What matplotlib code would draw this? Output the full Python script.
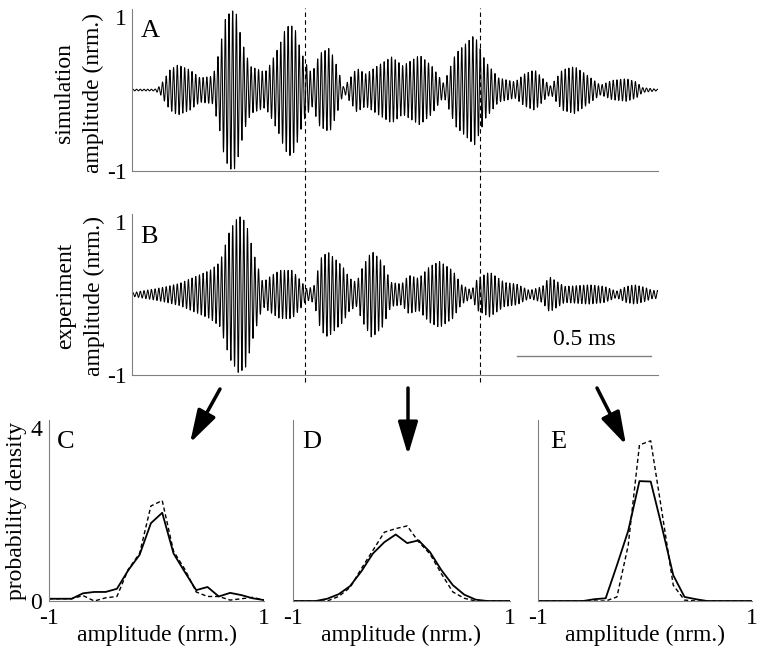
import numpy as np
import matplotlib
matplotlib.use('Agg')
import matplotlib.pyplot as plt
import matplotlib.transforms as mtransforms

plt.rcParams['font.family'] = ['Liberation Serif', 'DejaVu Serif']
plt.rcParams['font.size'] = 17

# envelope of the waveforms (time in ms, amplitude)
sim_env_t = [0.0, 0.085, 0.104, 0.141, 0.17, 0.215, 0.252, 0.3, 0.326, 0.344,
             0.367, 0.385, 0.4, 0.419, 0.441, 0.493, 0.511, 0.548, 0.567, 0.585,
             0.604, 0.622, 0.641, 0.667, 0.696, 0.733, 0.759, 0.785, 0.833, 0.867,
             0.911, 0.963, 1.004, 1.067, 1.111, 1.156, 1.2, 1.27, 1.311, 1.359,
             1.42, 1.456, 1.493, 1.53, 1.552, 1.596, 1.641, 1.681, 1.737, 1.781,
             1.833, 1.87, 1.893, 1.948]
sim_env_a = [0.01, 0.01, 0.05, 0.25, 0.31, 0.25, 0.15, 0.17, 0.51, 0.86,
             0.98, 0.97, 0.72, 0.47, 0.29, 0.22, 0.31, 0.56, 0.74, 0.81,
             0.76, 0.53, 0.35, 0.2, 0.45, 0.52, 0.3, 0.03, 0.27, 0.2,
             0.3, 0.41, 0.3, 0.43, 0.3, 0.08, 0.45, 0.68, 0.35, 0.15,
             0.1, 0.2, 0.25, 0.12, 0.05, 0.25, 0.29, 0.2, 0.06, 0.12,
             0.14, 0.1, 0.03, 0.01]

exp_env_t = [0.0, 0.03, 0.085, 0.13, 0.178, 0.233, 0.289, 0.326, 0.363, 0.396,
             0.422, 0.452, 0.485, 0.511, 0.548, 0.593, 0.619, 0.648, 0.674, 0.7,
             0.726, 0.781, 0.807, 0.833, 0.856, 0.889, 0.93, 0.96, 1.0, 1.026,
             1.063, 1.104, 1.141, 1.189, 1.222, 1.259, 1.281, 1.326, 1.381, 1.426,
             1.474, 1.522, 1.548, 1.604, 1.696, 1.752, 1.796, 1.833, 1.863, 1.9,
             1.93]
exp_env_a = [0.02, 0.04, 0.07, 0.1, 0.14, 0.22, 0.3, 0.4, 0.8, 0.98,
             0.9, 0.5, 0.15, 0.22, 0.3, 0.3, 0.2, 0.07, 0.1, 0.45,
             0.53, 0.35, 0.2, 0.15, 0.35, 0.54, 0.4, 0.15, 0.13, 0.24,
             0.2, 0.35, 0.41, 0.3, 0.12, 0.05, 0.2, 0.28, 0.15, 0.13,
             0.05, 0.1, 0.22, 0.1, 0.12, 0.1, 0.04, 0.1, 0.12, 0.09,
             0.05]

carrier_khz = 73.0
t_end = 1.95

# marked time points (ms) and the scale bar
mark_times = [0.64, 1.289]
bar_start = 1.426
bar_len = 0.5

# amplitude histograms, 20 bins from -1 to 1
bins = np.linspace(-1, 1, 20)
c_solid = [0.05, 0.05, 0.05, 0.17, 0.2, 0.2, 0.27, 0.68, 1.02, 1.72,
           1.95, 1.05, 0.64, 0.24, 0.31, 0.1, 0.18, 0.13, 0.06, 0.02]
c_dash = [0.05, 0.05, 0.05, 0.12, 0.0, 0.07, 0.1, 0.7, 1.05, 2.1,
          2.22, 1.1, 0.7, 0.2, 0.1, 0.1, 0.02, 0.05, 0.08, 0.02]
d_solid = [0, 0, 0, 0.05, 0.15, 0.33, 0.66, 1.05, 1.3, 1.47,
           1.28, 1.34, 1.08, 0.68, 0.35, 0.14, 0.03, 0, 0, 0]
d_dash = [0, 0, 0, 0, 0.1, 0.3, 0.72, 1.12, 1.52, 1.6,
          1.66, 1.31, 1.04, 0.6, 0.2, 0.06, 0, 0, 0, 0]
e_solid = [0, 0, 0, 0, 0, 0.04, 0.06, 0.79, 1.55, 2.65,
           2.64, 1.63, 0.57, 0.09, 0.04, 0, 0, 0, 0, 0]
e_dash = [0, 0, 0, 0, 0, 0, 0, 0.09, 1.23, 3.45,
          3.54, 1.96, 0.35, 0.02, 0, 0, 0, 0, 0, 0]

grey = '#808080'

fig = plt.figure(figsize=(7.6, 6.51), dpi=100)

axA = fig.add_axes([0.1737, 0.7373, 0.692, 0.2488])
axB = fig.add_axes([0.1737, 0.424, 0.692, 0.2473])

t = np.linspace(0, t_end, 8000)
for ax, et, ea in [(axA, sim_env_t, sim_env_a), (axB, exp_env_t, exp_env_a)]:
    env = np.interp(t, et, ea)
    ax.plot(t, env * np.sin(2 * np.pi * carrier_khz * t), color='k', lw=0.75)
    ax.set_xlim(0, t_end)
    ax.set_ylim(-1, 1)
    ax.set_xticks([])
    ax.set_yticks([-1, 1])
    ax.set_yticklabels(['-1', '1'])
    ax.get_yticklabels()[1].set_va('top')
    ax.tick_params(length=0, pad=4, labelsize=17)
    for s in ['top', 'right']:
        ax.spines[s].set_visible(False)
    for s in ['left', 'bottom']:
        ax.spines[s].set_color(grey)

axA.text(0.017, 0.864, 'A', transform=axA.transAxes, fontsize=19, ha='left', va='center')
axB.text(0.015, 0.857, 'B', transform=axB.transAxes, fontsize=19, ha='left', va='center')

fig.text(79 / 760, 1 - 93 / 651, 'simulation\namplitude (nrm.)', rotation=90,
         ha='center', va='center', multialignment='center', linespacing=1.5)
fig.text(80 / 760, 1 - 296 / 651, 'experiment\namplitude (nrm.)', rotation=90,
         ha='center', va='center', multialignment='center', linespacing=1.5)

# scale bar
axB.plot([bar_start, bar_start + bar_len], [-0.77, -0.77], color=grey, lw=1)
axB.text(bar_start + bar_len / 2, -0.69, '0.5 ms', ha='center', va='bottom')

# dashed marks across both panels
trans = mtransforms.blended_transform_factory(axA.transData, fig.transFigure)
for m in mark_times:
    fig.add_artist(plt.Line2D([m, m], [0.413, 0.988], transform=trans,
                              color='k', lw=0.8, ls=(0, (4, 3))))

# histograms
hist_pos = [[0.0645, 0.0768, 0.283, 0.278],
            [0.3855, 0.0768, 0.2855, 0.278],
            [0.708, 0.0768, 0.2816, 0.278]]
hist_data = [(c_solid, c_dash, 'C', 0.037), (d_solid, d_dash, 'D', 0.041),
             (e_solid, e_dash, 'E', 0.056)]
for pos, (sol, dsh, lab, lx) in zip(hist_pos, hist_data):
    ax = fig.add_axes(pos)
    ax.plot(bins, dsh, color='k', lw=1.0, ls=(0, (3, 2)))
    ax.plot(bins, sol, color='k', lw=1.3)
    ax.set_xlim(-1, 1)
    ax.set_ylim(0, 4)
    ax.set_xticks([-1, 1])
    ax.set_xticklabels(['-1', '1'])
    ax.tick_params(length=0, pad=5, labelsize=17)
    ax.set_xlabel('amplitude (nrm.)', labelpad=-3)
    if lab == 'C':
        ax.set_yticks([0, 4])
        ax.set_yticklabels(['0', '4'])
        ax.get_yticklabels()[1].set_va('top')
        ax.set_ylabel('probability density', labelpad=2)
    else:
        ax.set_yticks([])
    for s in ['top', 'right']:
        ax.spines[s].set_visible(False)
    for s in ['left', 'bottom']:
        ax.spines[s].set_color(grey)
    ax.text(lx, 0.88, lab, transform=ax.transAxes, fontsize=19, ha='left', va='center')

# arrows from the marked times down to the histograms
arrows = [((220, 389), (190, 443)), ((408, 388), (408, 455)), ((597, 388), (626, 445))]
for (x0, y0), (x1, y1) in arrows:
    fig.add_artist(matplotlib.patches.FancyArrowPatch(
        (x0 / 760, 1 - y0 / 651), (x1 / 760, 1 - y1 / 651), transform=fig.transFigure,
        arrowstyle='-|>,head_length=1.0,head_width=0.3', mutation_scale=20,
        color='k', lw=2.5, shrinkA=0, shrinkB=0))

fig.savefig('out.png', dpi=100, facecolor='white')
